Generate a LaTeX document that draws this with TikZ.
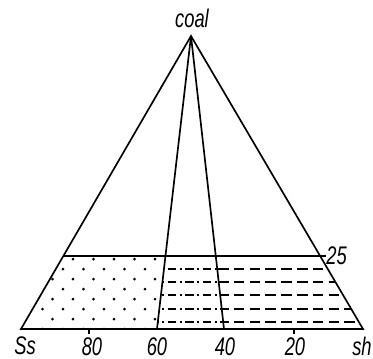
\documentclass[tikz,border=0pt]{standalone}
\usepackage{fontspec}
\setmainfont{Liberation Sans}[FakeStretch=0.72]
\usetikzlibrary{positioning}

\begin{document}
\begin{tikzpicture}[x=0.02cm,y=-0.02cm,
    main line/.style={line width=0.95pt},
    label node/.style={font=\itshape\fontsize{14.5}{16}\selectfont,inner sep=0pt},
    dot fill/.style={fill=black},
    sand dash/.style={line width=0.8pt,dash pattern=on 6pt off 3pt},
    mix dash/.style={line width=0.8pt,dash pattern=on 5pt off 2pt on 1pt off 2pt}]
  \useasboundingbox (0,0) rectangle (373,359);

  % Define vertices by coordinates
  \coordinate (Ss) at (21,329);
  \coordinate (sh) at (363,329);
  \coordinate (coal) at (191,36);
  \coordinate (p60) at (157,329);
  \coordinate (p40) at (224,329);
  \coordinate (l25) at (63.4,256);
  \coordinate (r25) at (320.2,256);
  \coordinate (e25) at (326,256);
  \coordinate (m60) at (165.5,256);
  \coordinate (m40) at (215.8,256);
  \coordinate (t80) at (89,329);
  \coordinate (t20) at (294,329);

  % Labels
  \node[label node] (coal label) at (192,18) {coal};
  \node[label node] (Ss label) at (25,346) {Ss};
  \node[label node] (n80) at (92,347) {80};
  \node[label node] (n60) at (157,347) {60};
  \node[label node] (n40) at (225,347) {40};
  \node[label node] (n20) at (295,347) {20};
  \node[label node,anchor=east] (sh label) at (372,346) {sh};
  \node[label node,anchor=west] (n25) at (326,256) {25};

  % Dotted field
  \begin{scope}
    \clip (Ss) -- (l25) -- (m60) -- (p60) -- cycle;
    \foreach \row in {0,...,7}
      \foreach \col in {-1,...,6}
        \fill[dot fill] ({73-10*mod(\row,2)+20.5*\col},{259+10*\row}) circle (1.5);
  \end{scope}

  % Dash-dot field
  \begin{scope}
    \clip (p60) -- (m60) -- (m40) -- (p40) -- cycle;
    \foreach \y in {269,282,295,309,322}
      \draw[mix dash] (150,\y) -- (230,\y);
  \end{scope}

  % Dashed field
  \begin{scope}
    \clip (p40) -- (m40) -- (r25) -- (sh) -- cycle;
    \foreach \y in {269,282,295,309,322}
      \draw[sand dash] (218,\y) -- (365,\y);
  \end{scope}

  % Draw straight lines
  \draw[main line] (Ss) -- (coal) -- (sh) -- cycle;
  \draw[main line] (coal) -- (p60);
  \draw[main line] (coal) -- (p40);
  \draw[main line] (l25) -- (e25);
  \draw[main line] (t80) -- ++(0,5);
  \draw[main line] (t20) -- ++(0,5);
\end{tikzpicture}
\end{document}
